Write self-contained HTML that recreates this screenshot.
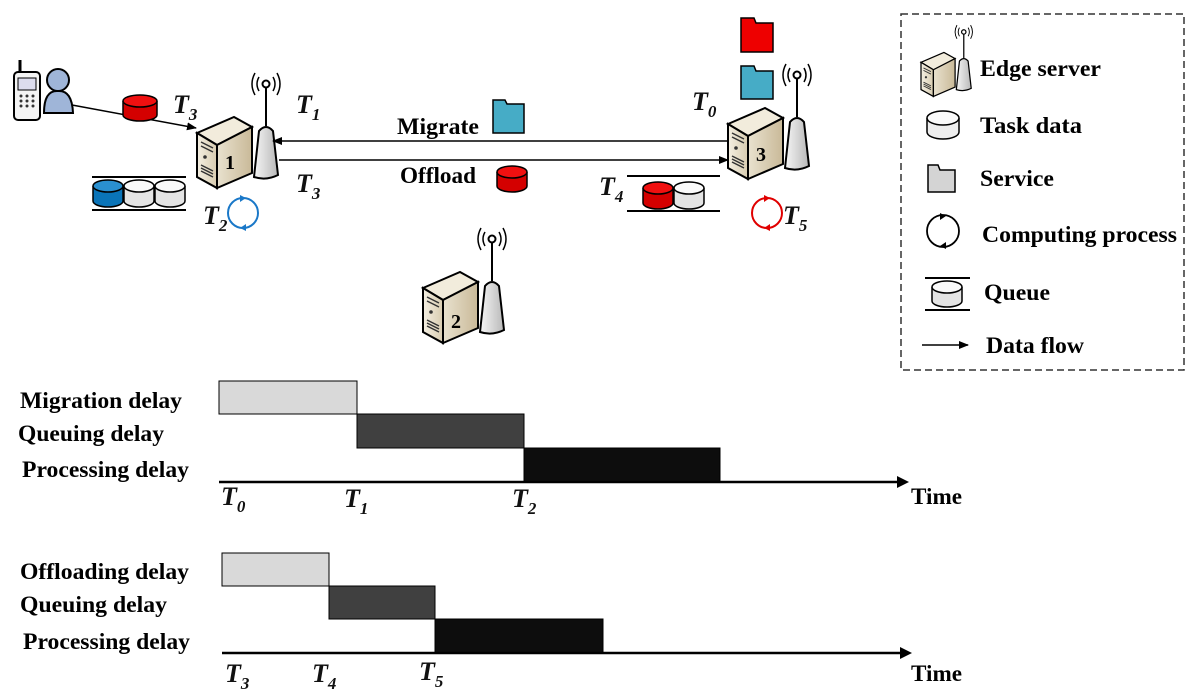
<!DOCTYPE html>
<html><head><meta charset="utf-8"><style>
html,body{margin:0;padding:0;background:#fff;}
svg{display:block;}
.b{font-family:"Liberation Serif",serif;font-weight:bold;fill:#000;}
.t{font-family:"Liberation Serif",serif;font-weight:bold;font-style:italic;fill:#111;}
</style></head><body>
<svg width="1200" height="698" viewBox="0 0 1200 698" xmlns="http://www.w3.org/2000/svg">
<defs>
<linearGradient id="bg1" x1="0" x2="1"><stop offset="0" stop-color="#e9e2cf"/><stop offset="1" stop-color="#c9b998"/></linearGradient>
<linearGradient id="bg2" x1="0" x2="1"><stop offset="0" stop-color="#f4efe2"/><stop offset="1" stop-color="#d8ccb0"/></linearGradient>
<linearGradient id="tw" x1="0" x2="1"><stop offset="0" stop-color="#f6f6f6"/><stop offset="1" stop-color="#b8b8b8"/></linearGradient>
<marker id="ar" markerWidth="10" markerHeight="8" refX="9" refY="4" orient="auto" markerUnits="userSpaceOnUse"><path d="M0,0 L10,4 L0,8 Z" fill="#000"/></marker>
<g id="srv">
  <path d="M0,16 L37,0 L55,10 L20,28 Z" fill="#f2ecdc" stroke="#000" stroke-width="2"/>
  <path d="M0,16 L20,28 L20,71 L0,60 Z" fill="url(#bg2)" stroke="#000" stroke-width="2"/>
  <path d="M20,28 L55,10 L55,56 L20,71 Z" fill="url(#bg1)" stroke="#000" stroke-width="2"/>
  <path d="M4,25 L16,31 M4,29 L16,35 M4,48 L16,54 M4,51 L16,57 M4,54 L16,60" stroke="#333" stroke-width="1.5"/>
  <circle cx="8" cy="40" r="1.8" fill="#333"/>
  <path d="M57,60 L62,14 Q69,6 76,14 L81,58 Q69,64 57,60 Z" fill="url(#tw)" stroke="#000" stroke-width="2"/>
  <line x1="69" y1="9" x2="69" y2="-29" stroke="#000" stroke-width="2"/>
  <circle cx="69" cy="-33" r="3.5" fill="#fff" stroke="#000" stroke-width="2"/>
  <path d="M62,-40 Q58,-33 62,-26 M58,-44 Q52,-33 58,-22 M76,-40 Q80,-33 76,-26 M80,-44 Q86,-33 80,-22" fill="none" stroke="#000" stroke-width="1.5"/>
</g>
</defs>

<!-- phone + person -->
<rect x="14" y="72" width="26" height="48" rx="4" fill="#f4f4f4" stroke="#000" stroke-width="2"/>
<line x1="20" y1="72" x2="20" y2="60" stroke="#000" stroke-width="3"/>
<rect x="18" y="78" width="18" height="12" fill="#dde" stroke="#000"/>
<g fill="#333"><circle cx="21" cy="96" r="1.5"/><circle cx="27" cy="96" r="1.5"/><circle cx="33" cy="96" r="1.5"/><circle cx="21" cy="101" r="1.5"/><circle cx="27" cy="101" r="1.5"/><circle cx="33" cy="101" r="1.5"/><circle cx="21" cy="106" r="1.5"/><circle cx="27" cy="106" r="1.5"/><circle cx="33" cy="106" r="1.5"/></g>
<circle cx="58" cy="80" r="11" fill="#9fb5d8" stroke="#000" stroke-width="2"/>
<path d="M44,113 Q44,90 58,91 Q72,90 73,113 Z" fill="#9fb5d8" stroke="#000" stroke-width="2"/>
<line x1="72" y1="105" x2="196" y2="128" stroke="#000" stroke-width="1.5" marker-end="url(#ar)"/>

<g><path d="M123,101 L123,115 A17,6 0 0 0 157,115 L157,101" fill="#d40000" stroke="#000" stroke-width="1.5"/><ellipse cx="140" cy="101" rx="17" ry="6" fill="#f01010" stroke="#000" stroke-width="1.5"/></g>

<use href="#srv" x="197" y="117"/>
<use href="#srv" x="728" y="108"/>
<use href="#srv" x="423" y="272"/>
<text x="225" y="169" class="b" font-size="20">1</text>
<text x="756" y="161" class="b" font-size="20">3</text>
<text x="451" y="328" class="b" font-size="20">2</text>

<line x1="728" y1="141" x2="273" y2="141" stroke="#000" stroke-width="1.5" marker-end="url(#ar)"/>
<line x1="279" y1="160" x2="728" y2="160" stroke="#000" stroke-width="1.5" marker-end="url(#ar)"/>
<text x="397" y="134" class="b" font-size="23" textLength="82" lengthAdjust="spacingAndGlyphs">Migrate</text>
<text x="400" y="183" class="b" font-size="23" textLength="76" lengthAdjust="spacingAndGlyphs">Offload</text>
<path d="M493,100 L505,100 L507,104 L524,104 L524,133 L493,133 Z" fill="#46acc6" stroke="#000" stroke-width="1.5"/>
<g><path d="M497,172 L497,186 A15,6 0 0 0 527,186 L527,172" fill="#d40000" stroke="#000" stroke-width="1.5"/><ellipse cx="512" cy="172" rx="15" ry="6" fill="#f01010" stroke="#000" stroke-width="1.5"/></g>

<path d="M741,18 L754,18 L756,23 L773,23 L773,52 L741,52 Z" fill="#ee0000" stroke="#000" stroke-width="1.5"/>
<path d="M741,66 L754,66 L756,71 L773,71 L773,99 L741,99 Z" fill="#46acc6" stroke="#000" stroke-width="1.5"/>

<line x1="92" y1="177" x2="186" y2="177" stroke="#000" stroke-width="2"/>
<line x1="92" y1="210" x2="186" y2="210" stroke="#000" stroke-width="2"/>
<g stroke="#000" stroke-width="1.5">
<path d="M93,186 L93,201 A15,6 0 0 0 123,201 L123,186" fill="#0a74b8"/><ellipse cx="108" cy="186" rx="15" ry="6" fill="#2a90d0"/>
<path d="M124,186 L124,201 A15,6 0 0 0 154,201 L154,186" fill="#e4e4e4"/><ellipse cx="139" cy="186" rx="15" ry="6" fill="#fafafa"/>
<path d="M155,186 L155,201 A15,6 0 0 0 185,201 L185,186" fill="#e4e4e4"/><ellipse cx="170" cy="186" rx="15" ry="6" fill="#fafafa"/>
</g>
<line x1="627" y1="176" x2="720" y2="176" stroke="#000" stroke-width="2"/>
<line x1="627" y1="211" x2="720" y2="211" stroke="#000" stroke-width="2"/>
<g stroke="#000" stroke-width="1.5">
<path d="M643,188 L643,203 A15,6 0 0 0 673,203 L673,188" fill="#d40000"/><ellipse cx="658" cy="188" rx="15" ry="6" fill="#f01010"/>
<path d="M674,188 L674,203 A15,6 0 0 0 704,203 L704,188" fill="#e4e4e4"/><ellipse cx="689" cy="188" rx="15" ry="6" fill="#fafafa"/>
</g>

<circle cx="243" cy="213" r="15" fill="none" stroke="#1a78c8" stroke-width="2"/>
<path d="M240,195 L246,198 L240,202 Z M246,231 L240,228 L246,224 Z" fill="#1a78c8"/>
<circle cx="767" cy="213" r="15" fill="none" stroke="#e00000" stroke-width="2"/>
<path d="M764,195 L770,198 L764,202 Z M770,231 L764,228 L770,224 Z" fill="#e00000"/>

<g class="t" font-size="26">
<text x="173" y="113">T<tspan font-size="17" dy="7">3</tspan></text>
<text x="296" y="113">T<tspan font-size="17" dy="7">1</tspan></text>
<text x="296" y="192">T<tspan font-size="17" dy="7">3</tspan></text>
<text x="203" y="224">T<tspan font-size="17" dy="7">2</tspan></text>
<text x="692" y="110">T<tspan font-size="17" dy="7">0</tspan></text>
<text x="599" y="195">T<tspan font-size="17" dy="7">4</tspan></text>
<text x="783" y="224">T<tspan font-size="17" dy="7">5</tspan></text>
</g>

<!-- legend -->
<rect x="901" y="14" width="283" height="356" fill="none" stroke="#333" stroke-width="1.5" stroke-dasharray="7,4"/>
<g transform="translate(921,40) scale(0.62)"><use href="#srv" x="0" y="20"/></g>
<text x="980" y="76" class="b" font-size="23" textLength="121" lengthAdjust="spacingAndGlyphs">Edge server</text>
<g stroke="#000" stroke-width="1.5"><path d="M927,118 L927,132 A16,7 0 0 0 959,132 L959,118" fill="#eee"/><ellipse cx="943" cy="118" rx="16" ry="7" fill="#fafafa"/></g>
<text x="980" y="133" class="b" font-size="23" textLength="102" lengthAdjust="spacingAndGlyphs">Task data</text>
<path d="M928,165 L938,165 L940,170 L955,170 L955,192 L928,192 Z" fill="#d4d4d4" stroke="#000" stroke-width="1.5"/>
<text x="980" y="186" class="b" font-size="23" textLength="74" lengthAdjust="spacingAndGlyphs">Service</text>
<circle cx="943" cy="231" r="16" fill="none" stroke="#000" stroke-width="1.8"/>
<path d="M940,213 L946,216 L940,220 Z M946,249 L940,246 L946,242 Z" fill="#000"/>
<text x="982" y="242" class="b" font-size="23" textLength="195" lengthAdjust="spacingAndGlyphs">Computing process</text>
<line x1="925" y1="278" x2="970" y2="278" stroke="#000" stroke-width="2"/>
<line x1="925" y1="310" x2="970" y2="310" stroke="#000" stroke-width="2"/>
<g stroke="#000" stroke-width="1.5"><path d="M932,287 L932,301 A15,6 0 0 0 962,301 L962,287" fill="#e4e4e4"/><ellipse cx="947" cy="287" rx="15" ry="6" fill="#fafafa"/></g>
<text x="984" y="300" class="b" font-size="23" textLength="66" lengthAdjust="spacingAndGlyphs">Queue</text>
<line x1="922" y1="345" x2="968" y2="345" stroke="#000" stroke-width="1.5" marker-end="url(#ar)"/>
<text x="986" y="353" class="b" font-size="23" textLength="98" lengthAdjust="spacingAndGlyphs">Data flow</text>

<!-- timeline 1 -->
<rect x="219" y="381" width="138" height="33" fill="#d9d9d9" stroke="#000" stroke-width="1"/>
<rect x="357" y="414" width="167" height="34" fill="#404040" stroke="#000" stroke-width="1"/>
<rect x="524" y="448" width="196" height="34" fill="#0d0d0d" stroke="#000" stroke-width="1"/>
<line x1="219" y1="482" x2="905" y2="482" stroke="#000" stroke-width="2.5"/>
<path d="M897,476 L909,482 L897,488 Z" fill="#000"/>
<g class="b" font-size="23">
<text x="20" y="408" textLength="162" lengthAdjust="spacingAndGlyphs">Migration delay</text>
<text x="18" y="441" textLength="146" lengthAdjust="spacingAndGlyphs">Queuing delay</text>
<text x="22" y="477" textLength="167" lengthAdjust="spacingAndGlyphs">Processing delay</text>
<text x="911" y="504" textLength="51" lengthAdjust="spacingAndGlyphs">Time</text>
<text x="20" y="579" textLength="169" lengthAdjust="spacingAndGlyphs">Offloading delay</text>
<text x="20" y="612" textLength="147" lengthAdjust="spacingAndGlyphs">Queuing delay</text>
<text x="23" y="649" textLength="167" lengthAdjust="spacingAndGlyphs">Processing delay</text>
<text x="911" y="681" textLength="51" lengthAdjust="spacingAndGlyphs">Time</text>
</g>
<g class="t" font-size="26">
<text x="221" y="505">T<tspan font-size="17" dy="7">0</tspan></text>
<text x="344" y="507">T<tspan font-size="17" dy="7">1</tspan></text>
<text x="512" y="507">T<tspan font-size="17" dy="7">2</tspan></text>
<text x="225" y="682">T<tspan font-size="17" dy="7">3</tspan></text>
<text x="312" y="682">T<tspan font-size="17" dy="7">4</tspan></text>
<text x="419" y="680">T<tspan font-size="17" dy="7">5</tspan></text>
</g>
<rect x="222" y="553" width="107" height="33" fill="#d9d9d9" stroke="#000" stroke-width="1"/>
<rect x="329" y="586" width="106" height="33" fill="#404040" stroke="#000" stroke-width="1"/>
<rect x="435" y="619" width="168" height="34" fill="#0d0d0d" stroke="#000" stroke-width="1"/>
<line x1="222" y1="653" x2="908" y2="653" stroke="#000" stroke-width="2.5"/>
<path d="M900,647 L912,653 L900,659 Z" fill="#000"/>
</svg>
</body></html>
